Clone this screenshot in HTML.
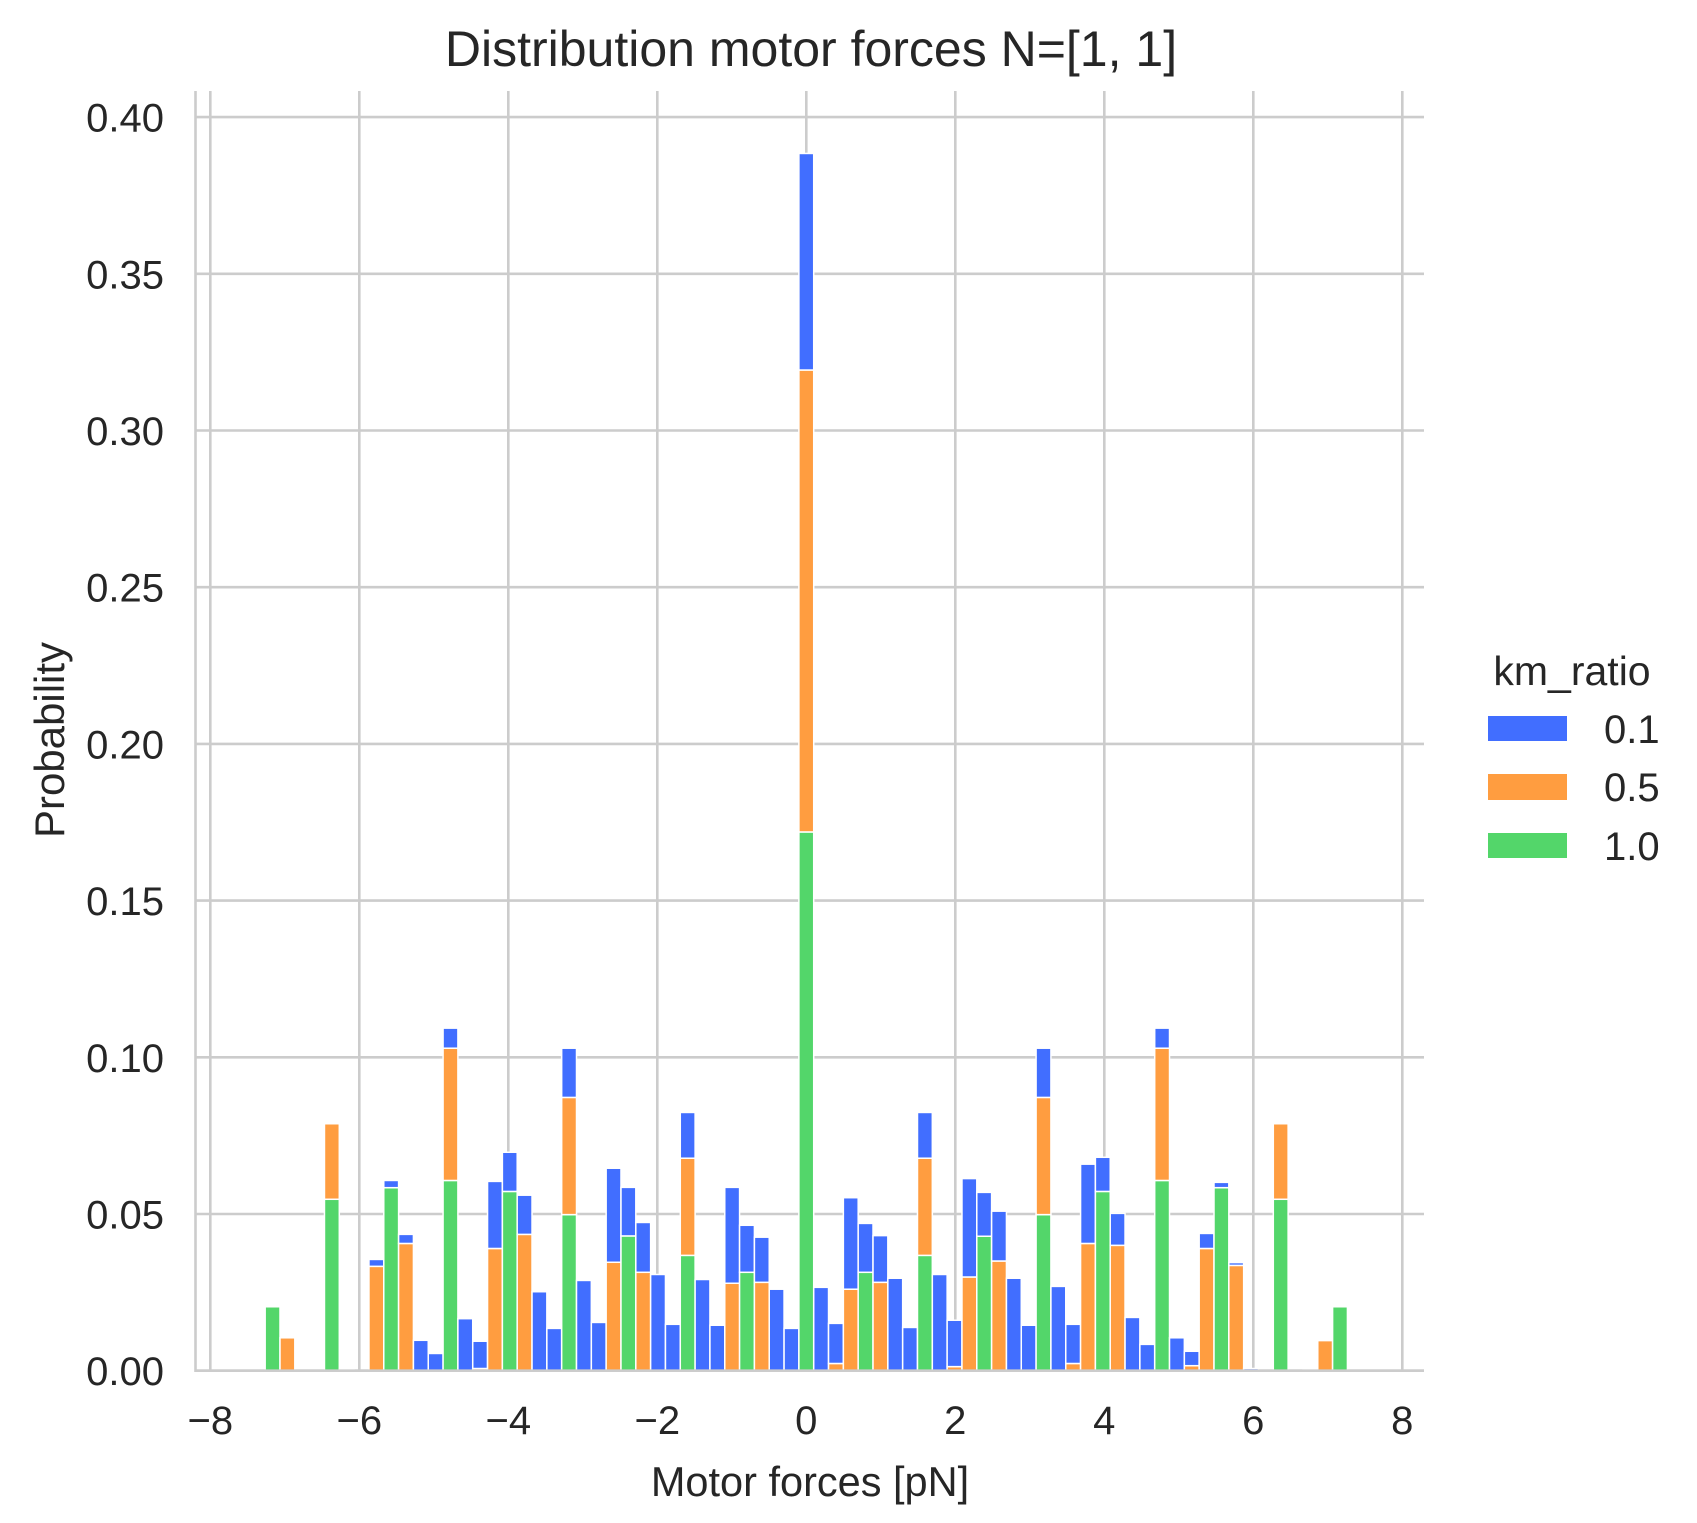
<!DOCTYPE html>
<html><head><meta charset="utf-8"><style>
html,body{margin:0;padding:0;background:#fff;}
svg{display:block;font-family:"Liberation Sans",Arial,sans-serif;}
</style></head><body>
<svg id="chart" width="1697" height="1523" viewBox="0 0 1697 1523">
<g id="grid"></g>
<g id="bars"></g>
<g id="axes"></g>
<text x="811" y="66" text-anchor="middle" font-size="50" fill="#262626">Distribution motor forces N=[1, 1]</text>
<text x="810" y="1496" text-anchor="middle" font-size="41.5" fill="#262626">Motor forces [pN]</text>
<text transform="translate(64,740) rotate(-90)" text-anchor="middle" font-size="42" fill="#262626">Probability</text>
<g>
<text x="1572" y="685" text-anchor="middle" font-size="41" fill="#262626">km_ratio</text>
<g><rect x="1488" y="716" width="79" height="25" fill="#416eff"/><text x="1604" y="743" font-size="40" fill="#262626">0.1</text></g>
<g><rect x="1488" y="774" width="79" height="26" fill="#ff9d40"/><text x="1604" y="801" font-size="40" fill="#262626">0.5</text></g>
<g><rect x="1488" y="833" width="79" height="25" fill="#53d66a"/><text x="1604" y="860" font-size="40" fill="#262626">1.0</text></g>
</g>
</svg>
<script>
// bin indices: bin center = binIndex * binWidth (pN)
const binWidth = 0.199;
const binIndex = [-36,-35,-34,-33,-32,-31,-30,-29,-28,-27,-26,-25,-24,-23,-22,-21,-20,-19,-18,-17,-16,-15,-14,-13,-12,-11,-10,-9,-8,-7,-6,-5,-4,-3,-2,-1,0,1,2,3,4,5,6,7,8,9,10,11,12,13,14,15,16,17,18,19,20,21,22,23,24,25,26,27,28,29,30,31,32,33,34,35,36];
// stacked segment heights (probability) per series
const green = [.0204,0,0,0,.0547,0,0,0,.0584,0,0,0,.0607,0,0,0,.0572,0,0,0,.0498,0,0,0,.043,0,0,0,.0368,0,0,0,.0314,0,0,0,.1719,0,0,0,.0314,0,0,0,.0368,0,0,0,.0429,0,0,0,.0498,0,0,0,.0572,0,0,0,.0607,0,0,0,.0584,0,0,0,.0547,0,0,0,.0204];
const orange = [0,.0105,0,0,.0241,0,0,.0333,0,.0406,0,0,.0422,0,.0007,.039,0,.0435,0,0,.0374,0,0,.0346,0,.0314,0,0,.031,0,0,.0279,0,.0282,0,0,.1474,0,.0023,.026,0,.0282,0,0,.031,0,.0013,.0299,0,.035,0,0,.0374,0,.0023,.0406,0,.04,0,0,.0422,0,.0016,.039,0,.0336,0,0,.0241,0,.0006,.0096,0];
const blue = [0,0,0,0,0,.0005,0,.0022,.0023,.0029,.0097,.0055,.0064,.0166,.0087,.0214,.0125,.0125,.0252,.0135,.0157,.0288,.0154,.03,.0155,.0159,.0307,.0148,.0146,.0291,.0145,.0306,.015,.0144,.026,.0135,.0691,.0266,.0128,.0292,.0156,.0149,.0295,.0138,.0146,.0307,.0148,.0314,.014,.0159,.0295,.0145,.0157,.0269,.0125,.0253,.0109,.0102,.017,.0084,.0064,.0105,.0046,.0048,.0017,.0009,.0007,0,0,0,0,0,0];
const xTicks = [-8,-6,-4,-2,0,2,4,6,8];
const xTickLabels = ["\u22128","\u22126","\u22124","\u22122","0","2","4","6","8"];
const yTicks = [0,0.05,0.10,0.15,0.20,0.25,0.30,0.35,0.40];
const yTickLabels = ["0.00","0.05","0.10","0.15","0.20","0.25","0.30","0.35","0.40"];

const NS = "http://www.w3.org/2000/svg";
const X0 = 210.3, PXU = 74.5;  // x of -8, px per unit
function xs(v){ return X0 + (v + 8) * PXU; }
const Y0 = 1370.7, PXY = 3134;
function ys(v){ return Y0 - v * PXY; }
const plotL = 195.5, plotR = 1424, plotT = 91;

function mk(tag, attrs, parent){
  const e = document.createElementNS(NS, tag);
  for (const k in attrs) e.setAttribute(k, attrs[k]);
  parent.appendChild(e);
  return e;
}
const grid = document.getElementById('grid');
const axes = document.getElementById('axes');
const bars = document.getElementById('bars');

xTicks.forEach((t, i) => {
  const l = mk('line', {x1: xs(t), x2: xs(t), y1: plotT, y2: Y0, stroke: '#cccccc', 'stroke-width': 2.6}, grid);
  
  
  const tx = mk('text', {x: xs(t), y: 1434, 'text-anchor': 'middle', 'font-size': 40, fill: '#262626'}, axes);
  tx.textContent = xTickLabels[i];
  
  
});
yTicks.forEach((t, i) => {
  const l = mk('line', {x1: plotL, x2: plotR, y1: ys(t), y2: ys(t), stroke: '#cccccc', 'stroke-width': 2.6}, grid);
  
  
  const tx = mk('text', {x: 164, y: ys(t) + 14.5, 'text-anchor': 'end', 'font-size': 40, fill: '#262626'}, axes);
  tx.textContent = yTickLabels[i];
  
  
});
const sl = mk('line', {x1: plotL, x2: plotL, y1: plotT, y2: Y0 + 1.3, stroke: '#cccccc', 'stroke-width': 2.6}, axes);


const sb = mk('line', {x1: plotL, x2: plotR, y1: Y0, y2: Y0, stroke: '#cccccc', 'stroke-width': 2.6}, axes);



const series = [
  {vals: green, color: '#53d66a', name: 'bar-km-1.0'},
  {vals: orange, color: '#ff9d40', name: 'bar-km-0.5'},
  {vals: blue, color: '#416eff', name: 'bar-km-0.1'}
];
binIndex.forEach((b, j) => {
  const c = b * binWidth;
  const left = xs(c - binWidth / 2), right = xs(c + binWidth / 2);
  let base = 0;
  series.forEach(s => {
    const v = s.vals[j];
    if (v > 0) {
      const r = mk('rect', {x: left, width: right - left, y: ys(base + v), height: ys(base) - ys(base + v), fill: s.color, stroke: '#ffffff', 'stroke-width': 1.5}, bars);
      
      
    }
    base += v;
  });
});
</script>
</body></html>
